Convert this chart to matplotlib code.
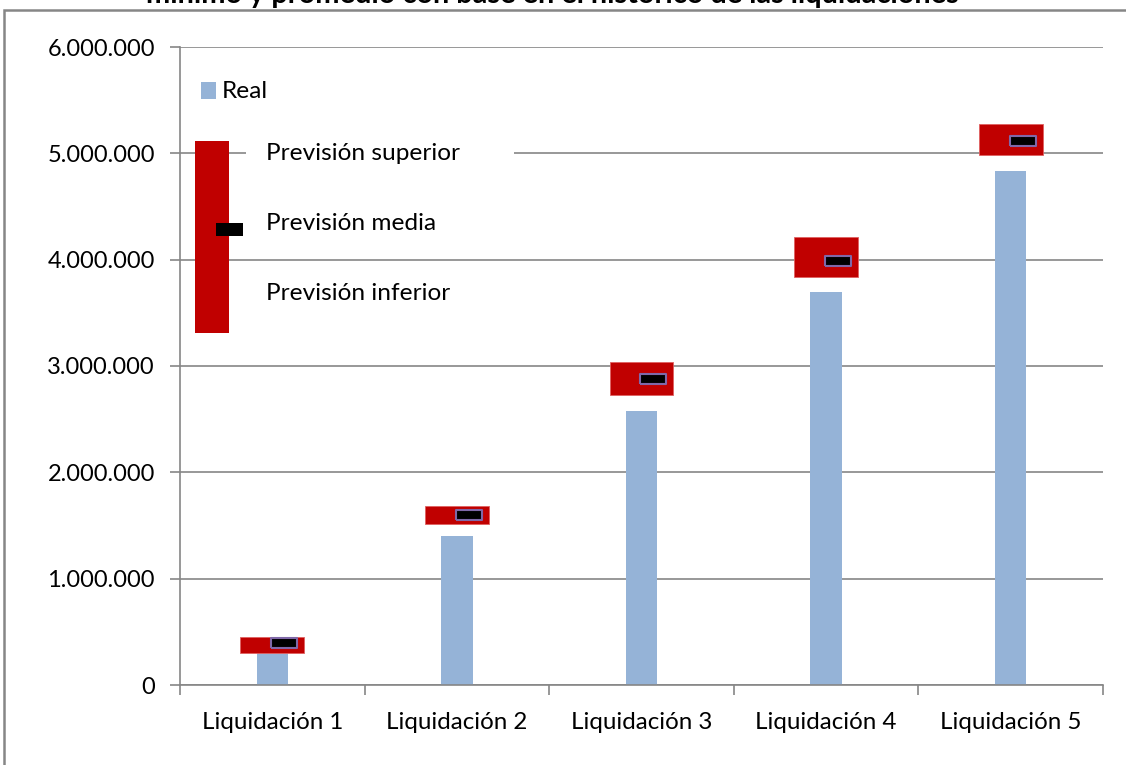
import matplotlib
matplotlib.use("Agg")
import matplotlib.pyplot as plt
from matplotlib.patches import Rectangle
from matplotlib.ticker import FuncFormatter, FixedLocator

categories = ["Liquidación 1", "Liquidación 2", "Liquidación 3", "Liquidación 4", "Liquidación 5"]
real = [300000, 1400000, 2577000, 3700000, 4835000]
prev_sup = [454000, 1684000, 3041000, 4217000, 5278000]
prev_inf = [304000, 1515000, 2728000, 3841000, 4986000]
prev_media = [392000, 1600000, 2879000, 3990000, 5118000]
yticks = [0, 1000000, 2000000, 3000000, 4000000, 5000000, 6000000]
title_visible = "mínimo y promedio con base en el histórico de las liquidaciones"

FONT = ["Lato", "DejaVu Sans"]
plt.rcParams['font.family'] = FONT

fig = plt.figure(figsize=(11.26, 7.65), dpi=100)
ax = fig.add_axes([180/1126, 1-685/765, (1103-180)/1126, (685-47)/765])

x = list(range(len(categories)))
ax.bar(x, real, width=0.17, color="#95B3D7", zorder=2)
heights = [s - i for s, i in zip(prev_sup, prev_inf)]
ax.bar(x, heights, bottom=prev_inf, width=0.345, color="#C00000",
       edgecolor="#E06060", linewidth=0.6, zorder=3)
mx = [v + 0.065 for v in x]
ax.plot(mx, prev_media, linestyle="none",
        marker=[(-1.2, -0.5), (1.2, -0.5), (1.2, 0.5), (-1.2, 0.5), (-1.2, -0.5)],
        markersize=19, markerfacecolor="black", markeredgecolor="#7F68A8",
        markeredgewidth=1.5, zorder=4)

ax.set_xlim(-0.5, len(categories) - 0.5)
ax.set_ylim(0, 6000000)
ax.set_yticks(yticks)
ax.yaxis.set_major_formatter(FuncFormatter(lambda v, p: f"{int(v):,}".replace(",", ".")))
ax.set_xticks(x)
ax.set_xticklabels(categories)
ax.xaxis.set_minor_locator(FixedLocator([i - 0.5 for i in range(len(categories) + 1)]))
ax.tick_params(axis="x", which="major", length=0, pad=19.5, labelsize=17.4, colors="black")
ax.tick_params(axis="x", which="minor", length=7, color="#868686", width=1.2)
ax.tick_params(axis="y", length=7, color="#868686", width=1.2, labelsize=17, pad=11)
ax.grid(axis="y", color="#868686", linewidth=1.2, zorder=0)
ax.set_axisbelow(True)
for s in ["top", "right"]:
    ax.spines[s].set_visible(False)
for s in ["left", "bottom"]:
    ax.spines[s].set_color("#868686")
    ax.spines[s].set_linewidth(1.2)

# legend (custom, drawn in figure pixel fractions)
W, H = 1126, 765
def fr(px, py, w=0, h=0):
    return (px / W, 1 - (py + h) / H)
fig.patches.append(Rectangle(fr(246, 140, 0, 28), 268 / W, 28 / H, transform=fig.transFigure,
                             facecolor="white", edgecolor="none", zorder=5))
fig.patches.append(Rectangle(fr(201, 82, 0, 17), 15 / W, 17 / H, transform=fig.transFigure,
                             facecolor="#95B3D7", edgecolor="none", zorder=6))
fig.text(222 / W, 1 - 91 / H, "Real", fontsize=17.6, va="center", ha="left", zorder=7)
fig.patches.append(Rectangle(fr(195, 141, 0, 192), 34 / W, 192 / H, transform=fig.transFigure,
                             facecolor="#C00000", edgecolor="none", zorder=6))
fig.patches.append(Rectangle(fr(216, 223, 0, 13), 27 / W, 13 / H, transform=fig.transFigure,
                             facecolor="black", edgecolor="none", zorder=7))
fig.text(266 / W, 1 - 153 / H, "Previsión superior", fontsize=17.6, va="center", ha="left", zorder=7)
fig.text(266 / W, 1 - 223 / H, "Previsión media", fontsize=17.6, va="center", ha="left", zorder=7)
fig.text(266 / W, 1 - 293 / H, "Previsión inferior", fontsize=17.6, va="center", ha="left", zorder=7)

# chart area border (partly cut by the image edges)
fig.patches.append(Rectangle((4 / W, -0.05), 1.1, 1 - 10 / H + 0.05, transform=fig.transFigure,
                             facecolor="none", edgecolor="#868686", linewidth=1.8, zorder=8))
# title, clipped at the top of the image as in the reference
fig.text(552 / W, 1 - 3 / H, title_visible, fontsize=20.8, fontweight="bold",
         ha="center", va="baseline")

fig.savefig("out.png", dpi=100)
